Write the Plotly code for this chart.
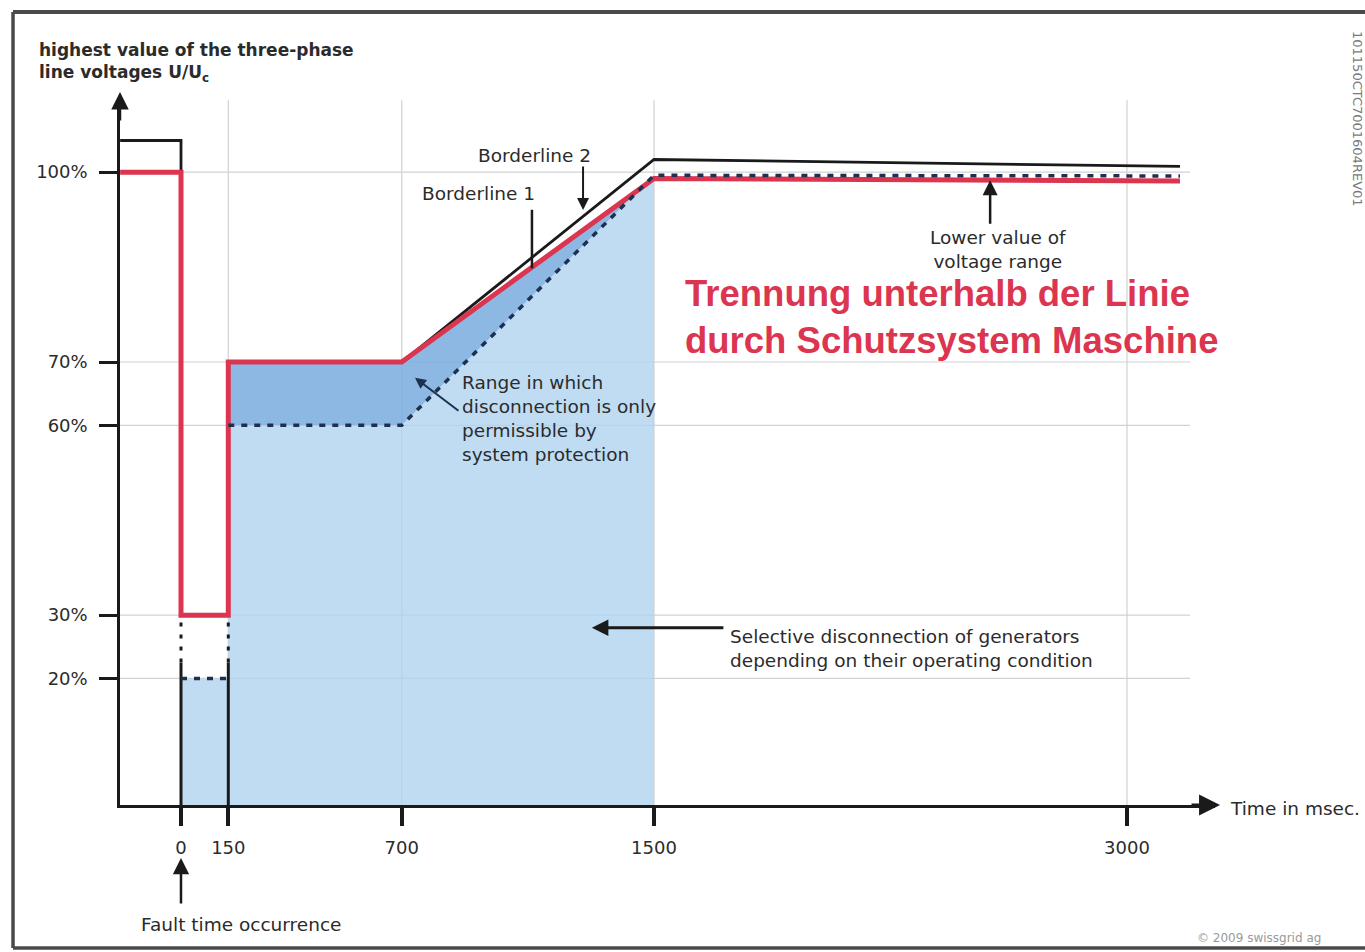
import plotly.graph_objects as go

# ---------------- data (time in ms, voltage in % of Uc) ----------------
t_border2 = [-193, 0, 0, 150, 150, 700, 1500, 3168]
u_border2 = [105, 105, 30, 30, 70, 70, 102, 100.9]

t_border1 = [-193, 0, 0, 150, 150, 700, 1500, 3168]
u_border1 = [100, 100, 30, 30, 70, 70, 99, 98.6]

t_lower = [150, 700, 1500, 3168]
u_lower = [60, 60, 99.5, 99.4]

t_fault = [0, 150]
u_fault = [20, 20]
u_fault_solid_top = 22.5
u_fault_dot_top = 29

x_ticks = [0, 150, 700, 1500, 3000]
x_ticktext = ["0", "150", "700", "1500", "3000"]
y_ticks = [20, 30, 60, 70, 100]
y_ticktext = ["20%", "30%", "60%", "70%", "100%"]

grid_x_end = 3200
x_range = [-193.45, 3279.1]
y_range = [0, 111.4]

RED = "#dc3550"
BLACK = "#1a1a1a"
NAVY = "#1d3050"
LIGHT = "rgba(175,211,240,0.8)"
BAND = "rgba(121,171,222,0.85)"
GRID = "#d2d2d2"
FONT = "DejaVu Sans"

fig = go.Figure()

# light blue area below lower value line
light_t = [t_fault[0], *t_fault, *t_lower[:3], t_lower[2]]
light_u = [0, *u_fault, *u_lower[:3], 0]
fig.add_trace(go.Scatter(x=light_t, y=light_u, fill="toself", fillcolor=LIGHT,
                         line=dict(width=0), mode="lines", hoverinfo="skip"))

# darker band between lower value line and borderline 1
band_t = t_lower[:3] + t_border1[4:7][::-1]
band_u = u_lower[:3] + u_border1[4:7][::-1]
fig.add_trace(go.Scatter(x=band_t, y=band_u, fill="toself", fillcolor=BAND,
                         line=dict(width=0), mode="lines", hoverinfo="skip"))

# borderline 2 (black)
fig.add_trace(go.Scatter(x=t_border2, y=u_border2, mode="lines",
                         line=dict(color=BLACK, width=2.8)))

# fault markers (vertical lines at 0 and 150)
fig.add_trace(go.Scatter(x=[t_fault[0], t_fault[0], None, t_fault[1], t_fault[1]],
                         y=[0, u_fault_solid_top, None, 0, u_fault_solid_top],
                         mode="lines", line=dict(color=BLACK, width=3)))
fig.add_trace(go.Scatter(x=[t_fault[0], t_fault[0], None, t_fault[1], t_fault[1]],
                         y=[u_fault_solid_top, u_fault_dot_top, None, u_fault_solid_top, u_fault_dot_top],
                         mode="lines", line=dict(color=BLACK, width=3, dash="4px,8px")))

# borderline 1 (red)
fig.add_trace(go.Scatter(x=t_border1, y=u_border1, mode="lines",
                         line=dict(color=RED, width=5)))

# lower value of voltage range (dotted)
fig.add_trace(go.Scatter(x=t_lower, y=u_lower, mode="lines",
                         line=dict(color=NAVY, width=3.5, dash="6px,7px")))
fig.add_trace(go.Scatter(x=t_fault, y=u_fault, mode="lines",
                         line=dict(color=NAVY, width=3.5, dash="6px,7px")))

shapes = []
# grid lines
for xv in [150, 700, 1500, 3000]:
    shapes.append(dict(type="line", xref="x", yref="y", x0=xv, x1=xv, y0=0, y1=y_range[1],
                       line=dict(color=GRID, width=1.2), layer="below"))
for yv in y_ticks:
    shapes.append(dict(type="line", xref="x", yref="y", x0=x_range[0], x1=grid_x_end, y0=yv, y1=yv,
                       line=dict(color=GRID, width=1.2), layer="below"))
# scanned page frame (top, left, bottom edges)
frame_col = "#4a4a4a"
shapes.append(dict(type="line", xref="paper", yref="paper", x0=-0.0977, x1=1.14, y0=1.1248, y1=1.1248,
                   line=dict(color=frame_col, width=4)))
shapes.append(dict(type="line", xref="paper", yref="paper", x0=-0.0977, x1=-0.0977, y0=1.1248, y1=-0.2028,
                   line=dict(color=frame_col, width=3.5)))
shapes.append(dict(type="line", xref="paper", yref="paper", x0=-0.0977, x1=1.14, y0=-0.2028, y1=-0.2028,
                   line=dict(color=frame_col, width=3.5)))

txt = "#2b2b2b"
LBL = 18.5
annotations = [
    # axis arrowheads
    dict(x=0, y=1.0113, xref="paper", yref="paper", text="", showarrow=True, ax=0, ay=30,
         arrowhead=2, arrowsize=1.4, arrowwidth=2.5, arrowcolor=BLACK),
    dict(x=1.0046, y=0, xref="paper", yref="paper", text="", showarrow=True, ax=-30, ay=0,
         arrowhead=2, arrowsize=1.4, arrowwidth=3, arrowcolor=BLACK),
    # y-axis title
    dict(x=-0.0758, y=1.0879, xref="paper", yref="paper", xanchor="left", yanchor="top", align="left",
         text="highest value of the three-phase<br>line voltages U/U<sub>c</sub>", showarrow=False,
         font=dict(family=FONT, size=17, color=txt, weight="bold")),
    dict(x=1.0119, y=-0.0043, xref="paper", yref="paper", xanchor="left", yanchor="middle",
         text="Time in msec.", showarrow=False, font=dict(family=FONT, size=LBL, color=txt)),
    # borderline labels
    dict(x=1122, y=102.7, xref="x", yref="y", text="Borderline 2", showarrow=False,
         font=dict(family=FONT, size=LBL, color=txt)),
    dict(x=1275, y=94.0, xref="x", yref="y", text="", showarrow=True, ax=0, ay=-45,
         arrowhead=2, arrowsize=1.2, arrowwidth=2, arrowcolor=BLACK),
    dict(x=942, y=96.7, xref="x", yref="y", text="Borderline 1", showarrow=False,
         font=dict(family=FONT, size=LBL, color=txt)),
    dict(x=1113, y=84.8, xref="x", yref="y", text="", showarrow=True, ax=0, ay=-60,
         arrowhead=0, arrowwidth=2.5, arrowcolor=BLACK),
    # lower value
    dict(x=2591, y=87.8, xref="x", yref="y", text="Lower value of<br>voltage range", showarrow=False,
         font=dict(family=FONT, size=LBL, color=txt)),
    dict(x=2566, y=98.7, xref="x", yref="y", text="", showarrow=True, ax=0, ay=45,
         arrowhead=2, arrowsize=1.2, arrowwidth=2.5, arrowcolor=BLACK),
    # red German note
    dict(x=1592, y=77.1, xref="x", yref="y", xanchor="left", yanchor="middle", align="left",
         text="Trennung unterhalb der Linie<br>durch Schutzsystem Maschine", showarrow=False,
         font=dict(family="Liberation Sans", size=36.5, color=RED, weight="bold")),
    # range note
    dict(x=885, y=61.0, xref="x", yref="y", xanchor="left", yanchor="middle", align="left",
         text="Range in which<br>disconnection is only<br>permissible by<br>system protection",
         showarrow=False, font=dict(family=FONT, size=LBL, color=txt)),
    dict(x=742, y=67.5, xref="x", yref="y", text="", showarrow=True, ax=45, ay=34,
         arrowhead=2, arrowsize=1.1, arrowwidth=2, arrowcolor=NAVY),
    # selective disconnection
    dict(x=1735, y=24.8, xref="x", yref="y", xanchor="left", yanchor="middle", align="left",
         text="Selective disconnection of generators<br>depending on their operating condition",
         showarrow=False, font=dict(family=FONT, size=LBL, color=txt)),
    dict(x=1303, y=28.0, xref="x", yref="y", text="", showarrow=True, ax=133, ay=0,
         arrowhead=2, arrowsize=1.1, arrowwidth=3, arrowcolor=BLACK),
    # fault time
    dict(x=0.1109, y=-0.1702, xref="paper", yref="paper", xanchor="center", yanchor="middle",
         text="Fault time occurrence", showarrow=False,
         font=dict(family=FONT, size=LBL, color=txt)),
    dict(x=0.0557, y=-0.0752, xref="paper", yref="paper", text="", showarrow=True, ax=0, ay=47,
         arrowhead=2, arrowsize=1.3, arrowwidth=2.5, arrowcolor=BLACK),
    # copyright and margin code
    dict(x=0.9817, y=-0.1887, xref="paper", yref="paper", xanchor="left", yanchor="middle",
         text="© 2009 swissgrid ag", showarrow=False, font=dict(family=FONT, size=12, color="#9a9a9a")),
    dict(x=1.1306, y=0.973, xref="paper", yref="paper", xanchor="center", yanchor="middle", textangle=90,
         text="101150CTC7001604REV01", showarrow=False, font=dict(family=FONT, size=13, color="#7a7a7a")),
]

fig.update_layout(
    width=1365, height=952,
    margin=dict(l=120, r=150, t=100, b=147, pad=0),
    paper_bgcolor="white", plot_bgcolor="white",
    showlegend=False,
    shapes=shapes, annotations=annotations,
    xaxis=dict(range=x_range, showgrid=False, zeroline=False, showline=True, linecolor=BLACK,
               linewidth=3, ticks="outside", ticklen=18, tickwidth=4, tickcolor=BLACK,
               tickvals=x_ticks, ticktext=x_ticktext, ticklabelstandoff=6,
               tickfont=dict(family=FONT, size=18, color="#2b2b2b")),
    yaxis=dict(range=y_range, showgrid=False, zeroline=False, showline=True, linecolor=BLACK,
               linewidth=2.5, ticks="outside", ticklen=18, tickwidth=3, tickcolor=BLACK,
               tickvals=y_ticks, ticktext=y_ticktext, ticklabelstandoff=8,
               tickfont=dict(family=FONT, size=18, color="#2b2b2b")),
)

fig.write_html("out.html")
